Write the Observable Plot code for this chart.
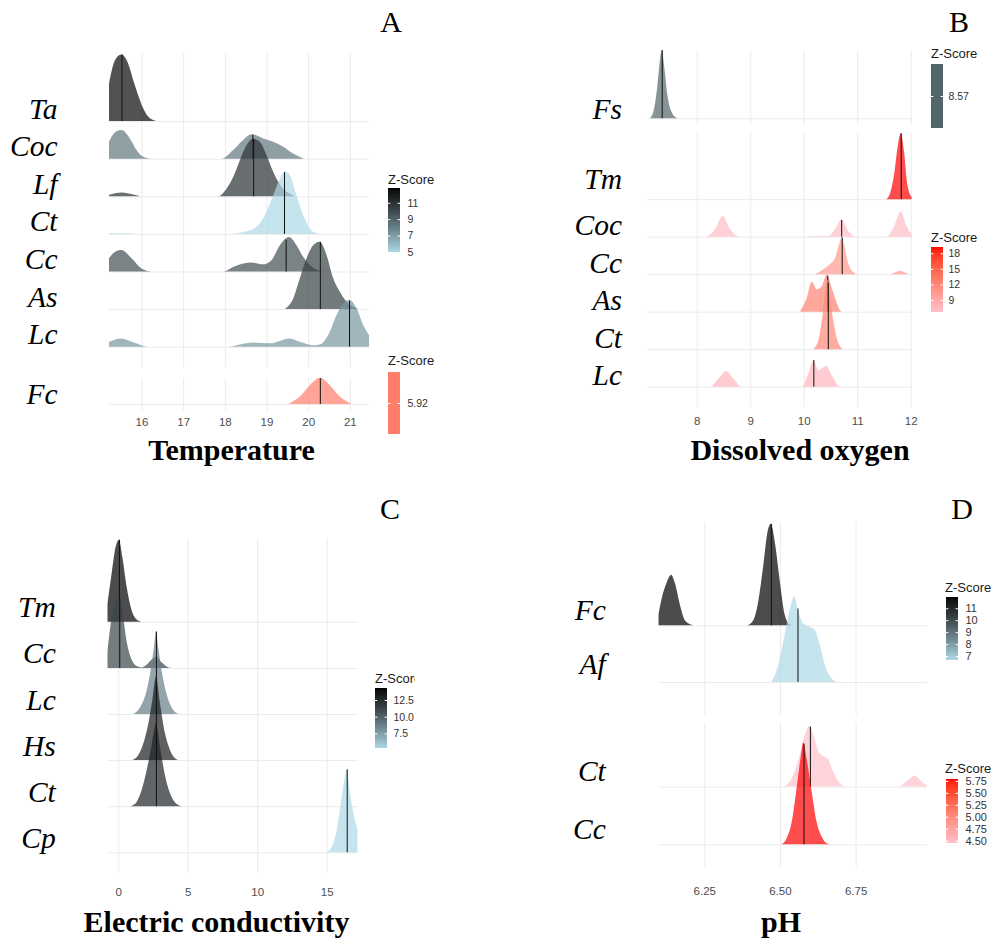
<!DOCTYPE html>
<html><head><meta charset="utf-8">
<script src="https://cdn.jsdelivr.net/npm/d3@7"></script>
<script src="https://cdn.jsdelivr.net/npm/@observablehq/plot@0.6"></script>
<style>
html,body{margin:0;padding:0;background:#fff;}
#root{position:relative;width:992px;height:939px;overflow:hidden;background:#fff;}
</style></head><body><div id="root"></div><script>
// ---------------- DATA ----------------
// Panel A: Temperature
const tempRowsTop = ["Ta","Coc","Lf","Ct","Cc","As","Lc"];
const tempZTop = [12.6, 8.3, 11.0, 5.0, 9.8, 10.3, 7.2];
const tempMedianTop = [15.52, 18.66, 18.68, 19.42, 19.46, 20.28, 20.98];
const tempRowsBottom = ["Fc"];
const tempZBottom = [5.92];
const tempMedianBottom = [20.28];
const tempTicks = [16, 17, 18, 19, 20, 21];
const tempTa = [[15.22,1.00],[15.32,1.49],[15.42,1.71],[15.52,1.77],[15.62,1.67],[15.72,1.40],[15.80,1.09],[15.92,0.69],[16.04,0.34],[16.16,0.12],[16.30,0.02],[16.36,0]];
const tempCoc = [[15.22,0.45],[15.36,0.70],[15.52,0.76],[15.72,0.54],[15.88,0.23],[16.04,0.05],[16.24,0],[17.92,0],[18.20,0.23],[18.44,0.50],[18.64,0.65],[18.92,0.54],[19.16,0.45],[19.40,0.32],[19.64,0.14],[19.90,0]];
const tempLf = [[15.22,0.04],[15.52,0.10],[15.80,0.05],[16.04,0],[17.84,0],[18.04,0.20],[18.20,0.51],[18.36,0.96],[18.52,1.36],[18.68,1.53],[18.84,1.45],[19.00,1.09],[19.16,0.65],[19.36,0.25],[19.56,0.07],[19.68,0]];
const tempCt = [[15.22,0.02],[15.60,0.02],[15.96,0],[18.16,0],[18.44,0.05],[18.76,0.19],[19.00,0.59],[19.16,1.03],[19.32,1.47],[19.44,1.67],[19.56,1.56],[19.72,1.03],[19.88,0.50],[20.04,0.14],[20.24,0]];
const tempCc = [[15.22,0.35],[15.36,0.52],[15.52,0.57],[15.76,0.35],[16.00,0.08],[16.24,0],[17.96,0],[18.20,0.12],[18.44,0.21],[18.64,0.24],[18.92,0.19],[19.12,0.30],[19.32,0.70],[19.54,0.92],[19.72,0.70],[19.88,0.39],[20.04,0.17],[20.28,0.02],[20.36,0]];
const tempAs = [[19.44,0],[19.64,0.28],[19.80,0.82],[19.96,1.35],[20.12,1.70],[20.28,1.79],[20.44,1.44],[20.60,0.82],[20.76,0.46],[20.92,0.20],[21.12,0.04],[21.20,0]];
const tempLc = [[15.22,0.13],[15.52,0.22],[15.80,0.12],[16.16,0],[18.08,0],[18.36,0.06],[18.68,0.11],[19.08,0.09],[19.56,0.22],[19.80,0.13],[20.12,0.04],[20.28,0.06],[20.52,0.40],[20.68,0.84],[20.84,1.15],[21.00,1.24],[21.16,1.02],[21.32,0.58],[21.46,0.31]];
const tempFc = [[19.52,0],[19.80,0.20],[20.04,0.50],[20.28,0.70],[20.52,0.50],[20.76,0.20],[21.04,0]];

// Panel B: Dissolved oxygen
const doRowsTop = ["Fs"];
const doZTop = [8.57];
const doMedianTop = [7.346];
const doRowsBottom = ["Tm","Coc","Cc","As","Ct","Lc"];
const doZBottom = [19.2, 7.0, 10.5, 12.5, 12.0, 7.6];
const doMedianBottom = [11.813, 10.70, 10.71, 10.44, 10.45, 10.18];
const doTicks = [8, 9, 10, 11, 12];
const doFs = [[7.128,0],[7.19,0.18],[7.252,0.71],[7.296,1.33],[7.346,1.82],[7.396,1.33],[7.452,0.62],[7.514,0.22],[7.614,0.02],[7.64,0]];
const doTm = [[11.54,0],[11.614,0.16],[11.688,0.65],[11.751,1.36],[11.813,1.76],[11.875,1.27],[11.938,0.38],[12.02,0.05]];
const doCoc = [[8.19,0],[8.343,0.20],[8.486,0.55],[8.623,0.20],[8.81,0],[10.0,0],[10.2,0.02],[10.46,0.02],[10.586,0.20],[10.704,0.46],[10.835,0.15],[10.96,0],[11.55,0],[11.689,0.28],[11.813,0.68],[11.925,0.28],[12.02,0.04]];
const doCc = [[10.21,0],[10.368,0.13],[10.492,0.27],[10.586,0.44],[10.66,0.80],[10.71,0.98],[10.754,0.80],[10.835,0.27],[10.96,0.02],[11.0,0],[11.6,0],[11.75,0.07],[11.80,0.09],[11.88,0.05],[11.96,0]];
const doAs = [[9.93,0],[10.056,0.37],[10.15,0.80],[10.243,0.60],[10.336,0.68],[10.43,1.0],[10.523,0.64],[10.617,0.24],[10.69,0.02],[10.72,0]];
const doCt = [[10.18,0],[10.274,0.25],[10.336,0.74],[10.399,1.54],[10.442,1.85],[10.492,1.36],[10.555,0.74],[10.617,0.29],[10.698,0.04],[10.74,0]];
const doLc = [[8.28,0],[8.436,0.27],[8.548,0.42],[8.685,0.22],[8.84,0],[9.96,0],[10.087,0.36],[10.18,0.71],[10.274,0.44],[10.417,0.56],[10.523,0.31],[10.65,0.02],[10.70,0]];

// Panel C: Electric conductivity
const ecRows = ["Tm","Cc","Lc","Hs","Ct","Cp"];
const ecZ = [14.3, 11.2, 8.8, 13.2, 12.8, 5.3];
const ecMedian = [0.05, 0.07, 2.71, 2.71, 2.71, 16.44];
const ecTicks = [0, 5, 10, 15];
const ecTm = [[-0.79,0.38],[-0.48,1.05],[-0.19,1.63],[0.05,1.78],[0.29,1.41],[0.60,0.76],[0.96,0.25],[1.32,0.05],[1.68,0]];
const ecCc = [[-0.79,0.33],[-0.48,1.08],[-0.19,1.45],[0.05,1.52],[0.29,1.23],[0.60,0.58],[0.96,0.18],[1.32,0.04],[1.68,0.01],[2.04,0.07],[2.40,0.18],[2.71,0.25],[3.12,0.12],[3.60,0.01],[3.84,0]];
const ecLc = [[1.08,0],[1.56,0.14],[2.04,0.51],[2.40,1.08],[2.59,1.52],[2.71,1.79],[2.88,1.45],[3.12,0.94],[3.48,0.43],[3.84,0.14],[4.25,0.01],[4.35,0]];
const ecHs = [[1.03,0],[1.44,0.11],[1.80,0.36],[2.16,0.79],[2.45,1.30],[2.71,1.80],[3.00,1.23],[3.36,0.58],[3.72,0.22],[4.25,0.01],[4.35,0]];
const ecCt = [[0.91,0],[1.32,0.09],[1.68,0.35],[2.04,0.78],[2.40,1.32],[2.71,1.79],[3.00,1.29],[3.36,0.67],[3.84,0.20],[4.44,0.01],[4.55,0]];
const ecCp = [[15.0,0],[15.36,0.12],[15.72,0.48],[16.01,1.06],[16.25,1.53],[16.44,1.80],[16.68,1.28],[16.97,0.77],[17.23,0.48]];

// Panel D: pH
const phRowsTop = ["Fc","Af"];
const phZTop = [11.94, 6.67];
const phMedianTop = [6.47, 6.558];
const phRowsBottom = ["Ct","Cc"];
const phZBottom = [4.45, 5.79];
const phMedianBottom = [6.599, 6.578];
const phTicks = [6.25, 6.50, 6.75];
const phFc = [[6.098,0.18],[6.109,0.47],[6.126,0.76],[6.14,0.89],[6.153,0.74],[6.17,0.35],[6.186,0.09],[6.208,0.01],[6.219,0],[6.39,0],[6.412,0.09],[6.428,0.41],[6.445,1.06],[6.458,1.62],[6.47,1.79],[6.483,1.47],[6.50,0.76],[6.516,0.18],[6.533,0.01],[6.54,0]];
const phAf = [[6.472,0],[6.494,0.29],[6.517,0.88],[6.533,1.29],[6.547,1.51],[6.561,1.24],[6.577,1.03],[6.599,0.97],[6.616,0.91],[6.632,0.65],[6.649,0.29],[6.671,0.06],[6.687,0]];
const phCt = [[6.516,0],[6.544,0.20],[6.566,0.56],[6.583,0.91],[6.597,1.06],[6.61,0.91],[6.627,0.61],[6.643,0.53],[6.66,0.47],[6.676,0.26],[6.698,0.06],[6.72,0],[6.891,0],[6.918,0.09],[6.946,0.19],[6.968,0.09],[6.985,0.02]];
const phCc = [[6.505,0],[6.522,0.10],[6.539,0.39],[6.555,0.97],[6.568,1.49],[6.577,1.77],[6.588,1.49],[6.605,0.91],[6.621,0.39],[6.638,0.13],[6.654,0.02],[6.67,0]];

// ---------------- HELPERS ----------------
const root = document.getElementById("root");
const blueBlack = ["lightblue", "black"];
const pinkRed = ["pink", "red"];
function colorOf(domain, range) { return {type: "linear", domain, range, interpolate: "lab"}; }
function place(el, left, top) {
  el.style.position = "absolute"; el.style.left = left + "px"; el.style.top = top + "px";
  el.style.maxWidth = "none"; el.style.overflow = "visible"; el.style.background = "transparent";
  root.appendChild(el);
}
function interp(pts, x) {
  for (let i = 1; i < pts.length; i++) {
    const [x0, h0] = pts[i - 1], [x1, h1] = pts[i];
    if (x >= x0 && x <= x1) return x1 === x0 ? h1 : h0 + (h1 - h0) * (x - x0) / (x1 - x0);
  }
  return 0;
}
function ridgePlot(c) {
  const n = c.rows.length, W = 496;
  const mb = c.axis ? 30 : 0;
  const H = (c.frameBottom - c.frameTop) + mb;
  const y0 = c.bottomBaseline - c.frameTop;
  const marks = [
    Plot.ruleX(c.xTicks, {stroke: "#ebebeb", strokeWidth: 1}),
    Plot.ruleY(d3.range(n), {stroke: "#ebebeb", strokeWidth: 1})
  ];
  c.rows.forEach((r, i) => {
    const base = n - 1 - i;
    const pts = c.curves[i].map(([x, h]) => ({x, y1: base, y2: base + h, z: c.z[i]}));
    marks.push(Plot.areaY(pts, {x: "x", y1: "y1", y2: "y2", fill: "z", fillOpacity: 0.7, curve: "monotone-x", clip: true}));
    marks.push(Plot.ruleX([{x: c.medians[i], y1: base, y2: base + interp(c.curves[i], c.medians[i])}],
      {x: "x", y1: "y1", y2: "y2", stroke: "#111", strokeWidth: 1, clip: true}));
    marks.push(Plot.text([{r, y: base}], {y: "y", text: "r", frameAnchor: "left", textAnchor: "end", lineAnchor: "bottom",
      dx: -c.labelPad, dy: c.labelDy[i], fontFamily: "Liberation Serif, Times New Roman, serif", fontStyle: "italic", fontSize: 29.5, fill: "#000"}));
  });
  const svg = Plot.plot({
    width: W, height: H,
    marginLeft: c.frameLeft - c.panelLeft, marginRight: c.panelLeft + W - c.frameRight,
    marginTop: 0, marginBottom: mb,
    style: {fontFamily: "Liberation Sans, Arial, sans-serif", fontSize: "11.5px", color: "#4d4d4d", overflow: "visible"},
    x: {domain: c.xDomain, axis: c.axis ? "bottom" : null, ticks: c.xTicks, tickFormat: c.xFormat, tickSize: 0, tickPadding: c.tickPadding || 3, label: null},
    y: {domain: [0, 1], range: [y0, y0 - c.rowPx], axis: null},
    color: c.color,
    marks
  });
  place(svg, c.panelLeft, c.frameTop);
}
function legendPlot(l) {
  const h = l.barBottom - l.barTop;
  const nStops = 80, [lo, hi] = l.color.domain;
  const stops = l.single != null
    ? [{a: lo, b: hi, m: l.single}]
    : d3.range(nStops).map(i => ({a: lo + (hi - lo) * i / nStops, b: lo + (hi - lo) * (i + 1) / nStops, m: lo + (hi - lo) * (i + 0.5) / nStops}));
  const svg = Plot.plot({
    width: 60, height: h, margin: 0,
    style: {fontFamily: "Liberation Sans, Arial, sans-serif", overflow: "visible"},
    x: {domain: [0, 1], range: [0, 12], axis: null},
    y: {domain: [lo, hi], range: [h, 0], axis: null},
    color: l.color,
    marks: [
      Plot.rect(stops, {x1: () => 0, x2: () => 1, y1: "a", y2: "b", fill: "m", shapeRendering: "crispEdges"}),
      Plot.ruleY(l.ticks, {x1: () => 0, x2: () => 0.2, stroke: "white", strokeWidth: 1}),
      Plot.ruleY(l.ticks, {x1: () => 0.8, x2: () => 1, stroke: "white", strokeWidth: 1}),
      Plot.text(l.ticks, {x: () => 1, y: d => d, dx: l.dx || 6, text: l.fmt, textAnchor: "start", fontSize: l.fs || 10.5, fill: "#333"})
    ]
  });
  place(svg, l.left, l.barTop);
}

// ---------------- PANEL A ----------------
const colATop = colorOf([5, 12.8], blueBlack);
const colABot = colorOf([4.92, 6.92], pinkRed);
ridgePlot({rows: tempRowsTop, curves: [tempTa, tempCoc, tempLf, tempCt, tempCc, tempAs, tempLc], z: tempZTop, medians: tempMedianTop,
  color: colATop, xDomain: [15.22, 21.46], xTicks: tempTicks, panelLeft: 0, frameLeft: 109, frameRight: 369,
  frameTop: 53, frameBottom: 367, bottomBaseline: 346.7, rowPx: 37.6, labelPad: 52, labelDy: tempRowsTop.map(() => -3)});
ridgePlot({rows: tempRowsBottom, curves: [tempFc], z: tempZBottom, medians: tempMedianBottom,
  color: colABot, xDomain: [15.22, 21.46], xTicks: tempTicks, xFormat: d => String(d), panelLeft: 0, frameLeft: 109, frameRight: 369,
  frameTop: 378, frameBottom: 411, bottomBaseline: 404, rowPx: 37.6, labelPad: 52, labelDy: [-1], axis: true, tickPadding: 6});
legendPlot({left: 388, barTop: 188, barBottom: 252, color: colATop, ticks: [5, 7, 9, 11], fmt: d => String(d), dx: 7});
legendPlot({left: 388, barTop: 372, barBottom: 434, color: colABot, single: 5.92, ticks: [5.92], fmt: d => d.toFixed(2), dx: 7});

// ---------------- PANEL B ----------------
const colBTop = colorOf([7.57, 9.57], blueBlack);
const colBBot = colorOf([6.7, 19.2], pinkRed);
ridgePlot({rows: doRowsTop, curves: [doFs], z: doZTop, medians: doMedianTop,
  color: colBTop, xDomain: [7.08, 12.02], xTicks: doTicks, panelLeft: 496, frameLeft: 647.5, frameRight: 911.8,
  frameTop: 50, frameBottom: 125, bottomBaseline: 118.3, rowPx: 37.5, labelPad: 26, labelDy: [0]});
ridgePlot({rows: doRowsBottom, curves: [doTm, doCoc, doCc, doAs, doCt, doLc], z: doZBottom, medians: doMedianBottom,
  color: colBBot, xDomain: [7.08, 12.02], xTicks: doTicks, xFormat: d => String(d), panelLeft: 496, frameLeft: 647.5, frameRight: 911.8,
  frameTop: 133, frameBottom: 407, bottomBaseline: 386.7, rowPx: 37.5, labelPad: 26, labelDy: [-11, -2, -2, -2, -2, -2], axis: true, tickPadding: 9});
legendPlot({left: 931, barTop: 64, barBottom: 128, color: colBTop, single: 8.57, ticks: [8.57], fmt: d => d.toFixed(2), dx: 5});
legendPlot({left: 931, barTop: 247, barBottom: 312, color: colBBot, ticks: [9, 12, 15, 18], fmt: d => String(d), dx: 5});

// ---------------- PANEL C ----------------
const colC = colorOf([5.3, 14.3], blueBlack);
ridgePlot({rows: ecRows, curves: [ecTm, ecCc, ecLc, ecHs, ecCt, ecCp], z: ecZ, medians: ecMedian,
  color: colC, xDomain: [-0.79, 17.23], xTicks: ecTicks, xFormat: d => String(d), panelLeft: 0, frameLeft: 107.3, frameRight: 357.7,
  frameTop: 538, frameBottom: 873, bottomBaseline: 852.3, rowPx: 46.1, labelPad: 52, labelDy: ecRows.map(() => -5), axis: true, tickPadding: 14});
legendPlot({left: 375, barTop: 688, barBottom: 748, color: colC, ticks: [7.5, 10, 12.5], fmt: d => d.toFixed(1), dx: 6});

// ---------------- PANEL D ----------------
const colDTop = colorOf([6.67, 11.94], blueBlack);
const colDBot = colorOf([4.45, 5.79], pinkRed);
ridgePlot({rows: phRowsTop, curves: [phFc, phAf], z: phZTop, medians: phMedianTop,
  color: colDTop, xDomain: [6.098, 6.985], xTicks: phTicks, panelLeft: 496, frameLeft: 658.3, frameRight: 926.7,
  frameTop: 521.7, frameBottom: 715, bottomBaseline: 681.7, rowPx: 56.7, labelPad: 53, labelDy: [-6, -8]});
ridgePlot({rows: phRowsBottom, curves: [phCt, phCc], z: phZBottom, medians: phMedianBottom,
  color: colDBot, xDomain: [6.098, 6.985], xTicks: phTicks, xFormat: d => d.toFixed(2), panelLeft: 496, frameLeft: 658.3, frameRight: 926.7,
  frameTop: 723, frameBottom: 867, bottomBaseline: 844.3, rowPx: 57.7, labelPad: 53, labelDy: [-6, -6], axis: true, tickPadding: 19});
legendPlot({left: 946, barTop: 597, barBottom: 660, color: colDTop, ticks: [7, 8, 9, 10, 11], fmt: d => String(d), dx: 7, fs: 11});
legendPlot({left: 946, barTop: 779, barBottom: 843, color: colDBot, ticks: [4.5, 4.75, 5, 5.25, 5.5, 5.75], fmt: d => d.toFixed(2), dx: 7, fs: 11});

// ---------------- STATIC TEXT ----------------
const ov = d3.create("svg").attr("width", 992).attr("height", 939)
  .style("position", "absolute").style("left", "0px").style("top", "0px").style("pointer-events", "none");
ov.append("defs").append("clipPath").attr("id", "cclip").append("rect").attr("x", 370).attr("y", 668).attr("width", 45).attr("height", 22);
const serif = "Liberation Serif, Times New Roman, serif";
const letters = [["A", 391, 32], ["B", 959, 32], ["C", 390, 519], ["D", 962, 519]];
letters.forEach(([t, x, y]) => ov.append("text").attr("x", x).attr("y", y).attr("text-anchor", "middle")
  .attr("font-family", serif).attr("font-size", 30).attr("fill", "#000").text(t));
const titles = [["Temperature", 231.5, 460], ["Dissolved oxygen", 800, 460], ["Electric conductivity", 216.5, 932], ["pH", 781, 932]];
titles.forEach(([t, x, y]) => ov.append("text").attr("x", x).attr("y", y).attr("text-anchor", "middle")
  .attr("font-family", serif).attr("font-weight", "bold").attr("font-size", 30).attr("fill", "#000").text(t));
const ztitles = [[388, 184], [388, 365], [931, 58], [931, 242], [375, 683], [945, 592], [945, 773]];
ztitles.forEach(([x, y], i) => {
  const t = ov.append("text").attr("x", x).attr("y", y).attr("font-family", "Liberation Sans, Arial, sans-serif")
    .attr("font-size", 13).attr("fill", "#1a1a1a").text("Z-Score");
  if (i === 4) t.attr("clip-path", "url(#cclip)");
});
root.appendChild(ov.node());
</script></body></html>
